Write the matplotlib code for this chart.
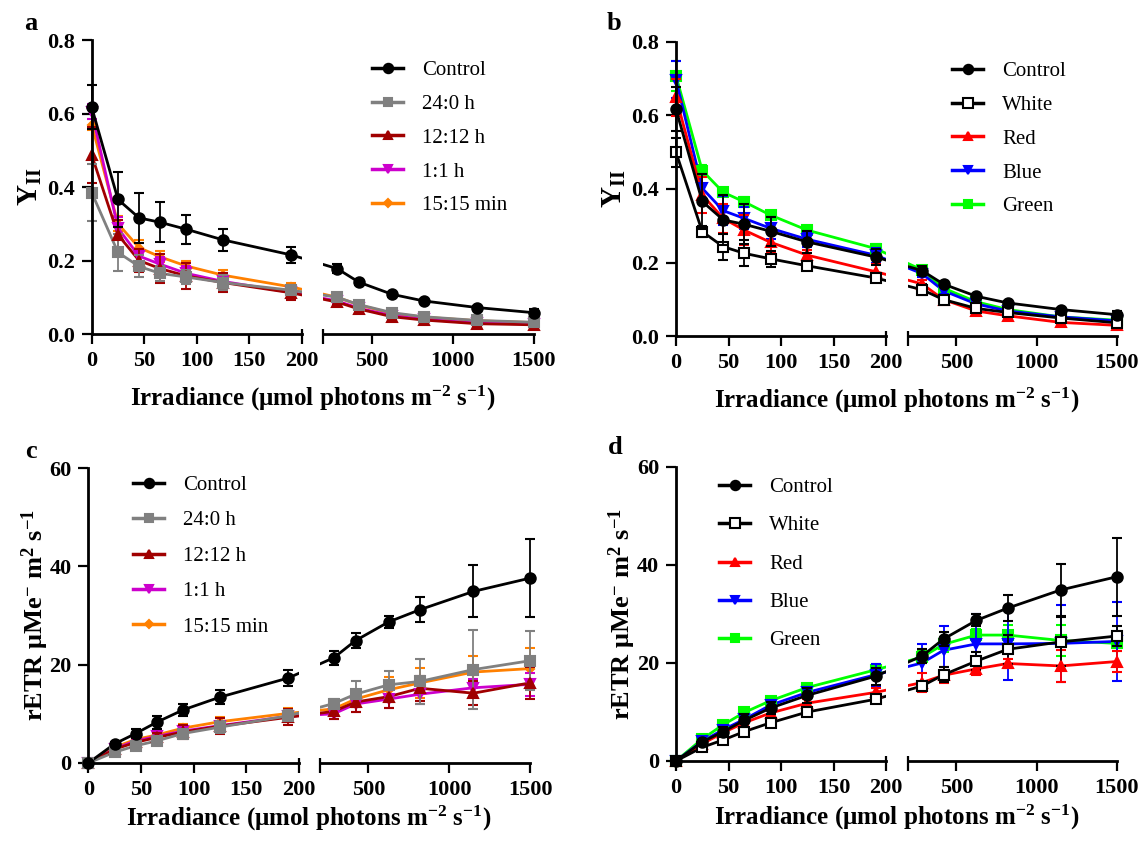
import matplotlib
matplotlib.use("Agg")
import matplotlib.pyplot as plt
import numpy as np
from matplotlib.lines import Line2D

# irradiance steps; the first 7 sit on the 0-200 segment, the rest on 200-1500
IRR = [0, 25, 45, 65, 90, 125, 190, 285, 420, 625, 820, 1150, 1500]
N_LEFT = 7

# panel a / b: effective quantum yield Y(II)
Y_CONTROL = [0.617, 0.366, 0.316, 0.304, 0.285, 0.256, 0.215, 0.178, 0.141, 0.108, 0.090, 0.072, 0.058]
Y_CONTROL_ERR = [0.06, 0.075, 0.068, 0.054, 0.04, 0.03, 0.021, 0.012, 0.008, 0.006, 0.005, 0.005, 0.01]
Y_240 = [0.385, 0.222, 0.184, 0.165, 0.155, 0.140, 0.119, 0.100, 0.080, 0.058, 0.047, 0.037, 0.032]
Y_240_ERR = [0.078, 0.05, 0.03, 0.02, 0.02, 0.02, 0.014, 0.008, 0.008, 0.006, 0.005, 0.008, 0.006]
Y_1212 = [0.487, 0.27, 0.2, 0.178, 0.158, 0.14, 0.112, 0.087, 0.068, 0.047, 0.038, 0.028, 0.025]
Y_1212_ERR = [0.075, 0.04, 0.03, 0.04, 0.035, 0.025, 0.02, 0.008, 0.007, 0.006, 0.005, 0.006, 0.006]
Y_11 = [0.605, 0.288, 0.212, 0.19, 0.165, 0.143, 0.113, 0.09, 0.07, 0.05, 0.04, 0.03, 0.027]
Y_11_ERR = [0.02, 0.03, 0.02, 0.02, 0.02, 0.015, 0.01, 0.007, 0.006, 0.005, 0.005, 0.005, 0.005]
Y_1515 = [0.57, 0.3, 0.235, 0.21, 0.185, 0.16, 0.128, 0.1, 0.079, 0.056, 0.046, 0.036, 0.031]
Y_1515_ERR = [0.015, 0.02, 0.02, 0.015, 0.015, 0.015, 0.01, 0.007, 0.006, 0.005, 0.005, 0.005, 0.005]

Y_WHITE = [0.5, 0.284, 0.243, 0.225, 0.21, 0.191, 0.158, 0.126, 0.099, 0.075, 0.064, 0.049, 0.036]
Y_WHITE_ERR = [0.04, 0.015, 0.035, 0.035, 0.022, 0.01, 0.01, 0.015, 0.01, 0.006, 0.006, 0.005, 0.005]
Y_RED = [0.649, 0.384, 0.32, 0.288, 0.255, 0.22, 0.175, 0.142, 0.099, 0.068, 0.055, 0.037, 0.029]
Y_RED_ERR = [0.05, 0.05, 0.04, 0.04, 0.03, 0.015, 0.02, 0.01, 0.008, 0.006, 0.006, 0.005, 0.005]
Y_BLUE = [0.697, 0.402, 0.341, 0.32, 0.293, 0.263, 0.22, 0.17, 0.123, 0.087, 0.068, 0.052, 0.041]
Y_BLUE_ERR = [0.05, 0.04, 0.04, 0.03, 0.03, 0.02, 0.02, 0.01, 0.01, 0.006, 0.006, 0.005, 0.005]
Y_GREEN = [0.708, 0.45, 0.391, 0.365, 0.329, 0.288, 0.238, 0.18, 0.13, 0.093, 0.072, 0.052, 0.043]
Y_GREEN_ERR = [0.04, 0.015, 0.01, 0.012, 0.01, 0.012, 0.012, 0.01, 0.008, 0.006, 0.005, 0.005, 0.005]

# panel c / d: relative electron transport rate
E_CONTROL = [0, 3.9, 6.0, 8.3, 10.8, 13.4, 17.3, 21.4, 24.9, 28.7, 31.2, 34.9, 37.6]
E_CONTROL_ERR = [0.2, 0.3, 1.0, 1.3, 1.3, 1.5, 1.7, 1.4, 1.5, 1.2, 2.6, 5.3, 8.0]
E_240 = [0, 2.2, 3.5, 4.5, 6.0, 7.3, 9.6, 12.1, 14.0, 15.9, 16.6, 19.0, 20.8]
E_240_ERR = [0.1, 0.4, 0.6, 0.8, 1.0, 1.2, 1.2, 1.0, 2.7, 2.8, 4.6, 8.0, 6.0]
E_1212 = [0, 2.8, 4.2, 5.2, 6.3, 7.5, 9.3, 10.5, 12.4, 13.5, 15.2, 14.2, 16.3]
E_1212_ERR = [0.1, 0.5, 0.8, 1.0, 1.5, 1.6, 1.6, 1.5, 2.0, 2.3, 2.5, 2.4, 3.2]
E_11 = [0, 2.9, 4.5, 5.4, 6.5, 7.6, 9.5, 10.0, 12.0, 13.0, 14.0, 15.3, 16.0]
E_11_ERR = [0.1, 0.4, 0.6, 0.7, 0.8, 1.0, 1.0, 1.0, 1.6, 1.8, 2.0, 1.7, 2.4]
E_1515 = [0, 3.2, 4.8, 5.7, 7.1, 8.4, 10.1, 11.0, 13.0, 14.9, 16.3, 18.5, 19.2]
E_1515_ERR = [0.1, 0.4, 0.5, 0.7, 0.8, 0.9, 1.0, 1.0, 1.6, 2.5, 3.0, 3.3, 4.2]

E_WHITE = [0, 2.8, 4.3, 6.0, 7.8, 10.0, 12.6, 15.3, 17.6, 20.4, 22.8, 24.3, 25.5]
E_WHITE_ERR = [0.1, 0.4, 0.5, 0.6, 0.8, 0.8, 0.8, 0.9, 1.5, 1.8, 3.0, 5.0, 2.0]
E_RED = [0, 3.5, 5.8, 7.8, 9.8, 11.8, 14.0, 16.0, 17.5, 18.8, 19.9, 19.4, 20.3]
E_RED_ERR = [0.1, 0.4, 0.6, 0.8, 0.8, 0.8, 1.0, 2.0, 1.6, 1.2, 1.0, 3.2, 2.2]
E_BLUE = [0, 4.0, 6.4, 8.5, 11.4, 14.0, 17.6, 20.0, 22.6, 23.9, 23.9, 24.0, 24.4]
E_BLUE_ERR = [0.1, 0.5, 0.7, 0.9, 1.0, 1.2, 2.2, 3.9, 5.0, 6.0, 7.3, 7.8, 8.0]
E_GREEN = [0, 4.5, 7.4, 9.9, 12.3, 15.0, 18.6, 21.2, 23.8, 25.7, 25.7, 24.6, 24.0]
E_GREEN_ERR = [0.1, 0.4, 0.5, 0.6, 0.7, 0.8, 1.2, 1.2, 1.5, 1.3, 2.0, 3.2, 1.5]

PHOTO_LABELS = ["Control", "24:0 h", "12:12 h", "1:1 h", "15:15 min"]
LIGHT_LABELS = ["Control", "White", "Red", "Blue", "Green"]

STY_CONTROL = dict(color="black", marker="o", ms=7.5, mfc="black")
PHOTO_STYLES = [
    STY_CONTROL,
    dict(color="#808080", marker="s", ms=6.5, mfc="#808080"),
    dict(color="#A00000", marker="^", ms=7, mfc="#A00000"),
    dict(color="#CC00CC", marker="v", ms=7, mfc="#CC00CC"),
    dict(color="#FF8000", marker="D", ms=4.5, mfc="#FF8000"),
]
LIGHT_STYLES = [
    STY_CONTROL,
    dict(color="black", marker="s", ms=7.5, mfc="white"),
    dict(color="#FF0000", marker="^", ms=7, mfc="#FF0000"),
    dict(color="#0000FF", marker="v", ms=7, mfc="#0000FF"),
    dict(color="#00FF00", marker="s", ms=6.5, mfc="#00FF00"),
]

plt.rcParams.update(
    {
        "font.family": "Liberation Serif",
        "font.weight": "bold",
        "axes.labelweight": "bold",
        "mathtext.fontset": "custom",
        "mathtext.rm": "Liberation Serif",
        "mathtext.bf": "Liberation Serif:bold",
        "mathtext.it": "Liberation Serif:italic",
    }
)

XLABEL = "Irradiance (\u03bcmol photons m$^{\\mathbf{-2}}$ s$^{\\mathbf{-1}}$)"
YLABEL_Y = r"$\mathbf{Y_{II}}$"
YLABEL_E = "rETR \u03bcMe$^{\\mathbf{-}}$ m$^{\\mathbf{2}}$ s$^{\\mathbf{-1}}$"

W, H = 1146, 841


def fpos(x0, x1, ytop, ybot):
    return [x0 / W, 1 - ybot / H, (x1 - x0) / W, (ybot - ytop) / H]


def bridge(fig, ax_l, ax_r, x0, y0, x1, y1, **kw):
    # line from last point of left segment to first of right, hidden in the gap
    inv = fig.transFigure.inverted()
    f0 = inv.transform(ax_l.transData.transform((x0, y0)))
    f1 = inv.transform(ax_r.transData.transform((x1, y1)))
    for ax in (ax_l, ax_r):
        ax.plot([f0[0], f1[0]], [f0[1], f1[1]], transform=fig.transFigure, **kw)


def draw_panel(fig, pos_l, pos_r, series, labels, styles, ymax, yticks, yfmt,
               ylabel, ylabel_size, ylabelpad, letter_xy, letter, leg_xy, leg_spacing, xlabel_xy):
    ax_l = fig.add_axes(pos_l)
    ax_r = fig.add_axes(pos_r)
    ax_l.set_xlim(0, 200)
    ax_r.set_xlim(200, 1500)
    for ax in (ax_l, ax_r):
        ax.set_ylim(0, ymax)
        ax.spines["top"].set_visible(False)
        ax.spines["right"].set_visible(False)
        ax.spines["bottom"].set_linewidth(2)
        ax.spines["left"].set_linewidth(2)
        ax.tick_params(width=1.6, length=7, labelsize=16, pad=5)
        # break marker pokes up from the axis at 200
        ax.plot([200, 200], [0, 0.018], transform=ax.get_xaxis_transform(),
                color="black", lw=1.6, clip_on=False, solid_capstyle="butt")
    ax_r.spines["left"].set_visible(False)
    ax_r.set_yticks([])
    ax_l.set_xticks([0, 50, 100, 150, 200])
    ax_r.set_xticks([200, 500, 1000, 1500], ["", "500", "1000", "1500"])
    ax_l.set_yticks(yticks, [yfmt.format(v) for v in yticks])

    x = np.array(IRR, dtype=float)
    handles = []
    order = list(range(len(series)))[::-1]
    for z, i in enumerate(order):
        y, e = np.array(series[i][0]), np.array(series[i][1])
        st = styles[i]
        c = st["color"]
        zl = 2 + z * 0.1
        ax_l.plot(x[:N_LEFT], y[:N_LEFT], color=c, lw=2, zorder=zl)
        ax_r.plot(x[N_LEFT:], y[N_LEFT:], color=c, lw=2, zorder=zl)
        bridge(fig, ax_l, ax_r, x[N_LEFT - 1], y[N_LEFT - 1], x[N_LEFT], y[N_LEFT],
               color=c, lw=2, zorder=zl)
        for ax, sl in ((ax_l, slice(0, N_LEFT)), (ax_r, slice(N_LEFT, None))):
            cont = ax.errorbar(x[sl], y[sl], yerr=e[sl], fmt=st["marker"], ms=st["ms"],
                               color=c, mfc=st["mfc"], mec=c, mew=1.5, ecolor=c,
                               elinewidth=1.3, capsize=3.5, capthick=1.3, zorder=zl + 0.05)
            for art in cont.get_children():
                art.set_clip_on(False)
    for i, lab in enumerate(labels):
        st = styles[i]
        handles.append(Line2D([], [], color=st["color"], lw=2.5, marker=st["marker"],
                              ms=st["ms"] * 0.9, mfc=st["mfc"], mec=st["color"], mew=1.5))

    ax_r.legend(handles, labels, loc="center left", bbox_to_anchor=(leg_xy[0] / W, 1 - leg_xy[1] / H),
                bbox_transform=fig.transFigure, frameon=False,
                prop={"weight": "normal", "size": 15}, handlelength=1.5, handletextpad=0.9,
                labelspacing=leg_spacing, borderpad=0, borderaxespad=0)

    ax_l.set_ylabel(ylabel, fontsize=ylabel_size, fontweight="bold", labelpad=ylabelpad)
    fig.text(xlabel_xy[0] / W, 1 - xlabel_xy[1] / H, XLABEL, fontsize=18, ha="center", va="center")
    fig.text(letter_xy[0] / W, 1 - letter_xy[1] / H, letter, fontsize=19, ha="center", va="center")


fig = plt.figure(figsize=(W / 100, H / 100), dpi=100)

photo_y = [(Y_CONTROL, Y_CONTROL_ERR), (Y_240, Y_240_ERR), (Y_1212, Y_1212_ERR),
           (Y_11, Y_11_ERR), (Y_1515, Y_1515_ERR)]
light_y = [(Y_CONTROL, Y_CONTROL_ERR), (Y_WHITE, Y_WHITE_ERR), (Y_RED, Y_RED_ERR),
           (Y_BLUE, Y_BLUE_ERR), (Y_GREEN, Y_GREEN_ERR)]
photo_e = [(E_CONTROL, E_CONTROL_ERR), (E_240, E_240_ERR), (E_1212, E_1212_ERR),
           (E_11, E_11_ERR), (E_1515, E_1515_ERR)]
light_e = [(E_CONTROL, E_CONTROL_ERR), (E_WHITE, E_WHITE_ERR), (E_RED, E_RED_ERR),
           (E_BLUE, E_BLUE_ERR), (E_GREEN, E_GREEN_ERR)]

y_ticks = [0.0, 0.2, 0.4, 0.6, 0.8]
e_ticks = [0, 20, 40, 60]

draw_panel(fig, fpos(91.7, 302, 40, 334), fpos(323.3, 533.7, 40, 334), photo_y, PHOTO_LABELS,
           PHOTO_STYLES, 0.8, y_ticks, "{:.1f}", YLABEL_Y, 21, 2.5, (30.6, 23), "a",
           (372, 138), 0.68, (312.7, 398))
draw_panel(fig, fpos(676, 886, 42, 336), fpos(908.3, 1116.7, 42, 336), light_y, LIGHT_LABELS,
           LIGHT_STYLES, 0.8, y_ticks, "{:.1f}", YLABEL_Y, 21, 2.5, (614, 23), "b",
           (952, 139), 0.68, (896.4, 400))
draw_panel(fig, fpos(88.3, 299, 468, 763), fpos(320, 530, 468, 763), photo_e, PHOTO_LABELS,
           PHOTO_STYLES, 60, e_ticks, "{:d}", YLABEL_E, 19, -1, (30.6, 452), "c",
           (133, 556), 0.76, (309, 818))
draw_panel(fig, fpos(676, 886, 467, 761), fpos(908.3, 1116.7, 467, 761), light_e, LIGHT_LABELS,
           LIGHT_STYLES, 60, e_ticks, "{:d}", YLABEL_E, 19, -1, (615.5, 448), "d",
           (719, 564), 0.9, (896.4, 817))

fig.savefig("out.png", dpi=100)
